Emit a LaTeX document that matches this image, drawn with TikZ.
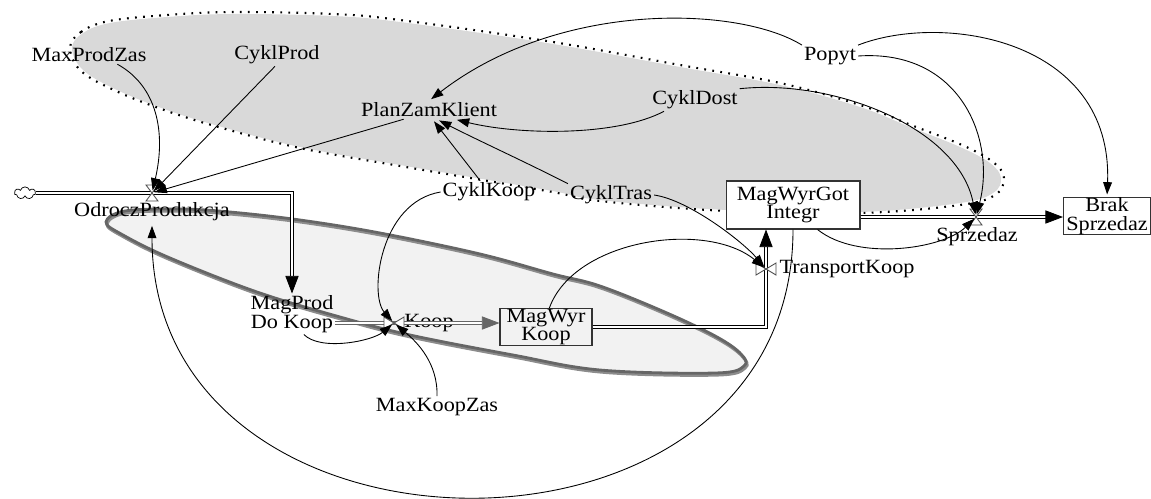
\documentclass[tikz,border=0pt]{standalone}
\usepackage{fontspec}
\setmainfont{Liberation Serif}[FakeStretch=1.1]
\usetikzlibrary{arrows.meta,shapes.symbols}

\begin{document}
\begin{tikzpicture}[x=0.02cm, y=-0.02cm,
  every node/.style={font=\fontsize{11.5}{10.5}\selectfont, inner sep=1pt, align=center},
  stock/.style={draw=black!80, line width=0.6pt, inner sep=0pt},
  flowpipe/.style={draw=black, line width=0.45pt, double=white, double distance=1.3pt,
    -{Triangle[length=10pt,width=7.5pt]}},
  link/.style={line width=0.5pt, shorten >=1.5pt, -{Triangle[length=7pt,width=5pt]}},
  hglass/.pic={\draw[black!70, line width=0.5pt, fill=white] (-6,-8) -- (6,-8) -- (-6,8) -- (6,8) -- cycle;},
  btie/.pic={\draw[black!70, line width=0.5pt, fill=white] (-10,-6) -- (-10,6) -- (10,-6) -- (10,6) -- cycle;}]
  \useasboundingbox (0,0) rectangle (1151,498);

  % shaded loops
  \fill[black!15] plot[smooth cycle, tension=0.6] coordinates {(72,48) (83,33) (110,23) (167,17)
    (233,14) (333,16) (400,22) (547,43) (680,67) (780,85) (860,107) (910,127) (960,147) (990,163)
    (1001,178) (993,193) (960,203) (860,212) (727,210) (600,200) (547,190) (400,165) (300,147)
    (222,127) (167,110) (117,90) (83,70)};
  \draw[line width=1.2pt, dash pattern=on 1pt off 3.6pt] plot[smooth cycle, tension=0.6] coordinates {(70,48) (81,32) (109,21) (167,15)
    (233,12) (333,14) (400,20) (547,41) (680,65) (780,83) (860,105) (911,125) (962,145) (993,162)
    (1004,178) (995,195) (960,205) (860,213) (727,211) (600,201) (547,191) (400,166) (300,148)
    (222,128) (167,111) (116,91) (81,71)};
  \draw[black!45, line width=1.8pt, fill=black!5, shift={(1,2)}] plot[smooth cycle, tension=0.6] coordinates {(106,222) (125,211)
    (180,209) (230,212) (300,220) (380,233) (480,254) (553,274) (600,286) (667,313) (717,337)
    (741,354) (744,366) (715,373) (600,370) (513,355) (410,335) (340,317) (257,292) (170,258) (123,235)};
  \draw[black!60, line width=1.6pt] plot[smooth cycle, tension=0.6] coordinates {(106,222) (125,211)
    (180,209) (230,212) (300,220) (380,233) (480,254) (553,274) (600,286) (667,313) (717,337)
    (741,354) (744,366) (715,373) (600,370) (513,355) (410,335) (340,317) (257,292) (170,258) (123,235)};

  % stocks and variables
  \node[cloud, draw, cloud puffs=7, aspect=2, minimum width=12pt, minimum height=7pt, inner sep=0pt] (src) at (25,193) {};
  \node (magprod) at (292,314) {MagProd\\Do Koop};
  \node[stock, minimum width=1.84cm, minimum height=0.74cm] (mwk) at (546,327) {MagWyr\\Koop};
  \node[stock, fill=white, minimum width=2.68cm, minimum height=0.96cm] (mwg) at (793,205) {MagWyrGot\\Integr};
  \node[stock, fill=white, minimum width=1.74cm, minimum height=0.7cm] (brak) at (1107,216) {Brak\\Sprzedaz};
  \coordinate (vodp) at (152,193);
  \coordinate (vkoop) at (394,323);
  \coordinate (vtr) at (766,269);
  \coordinate (vsp) at (976,217);
  \node (odp) at (152,212) {OdroczProdukcja};
  \node (koop) at (429,323) {Koop};
  \node (transport) at (847,269) {TransportKoop};
  \node (sprzedaz) at (977,237) {Sprzedaz};
  \node (maxprodzas) at (89,55) {MaxProdZas};
  \node (cyklprod) at (277,55) {CyklProd};
  \node (planzam) at (429,110) {PlanZamKlient};
  \node (cykldost) at (695,100) {CyklDost};
  \node (cyklkoop) at (489,192) {CyklKoop};
  \node (cykltras) at (611,195) {CyklTras};
  \node (popyt) at (830,56) {Popyt};
  \node (maxkoopzas) at (437,407) {MaxKoopZas};

  % flows
  \draw[flowpipe] (src.east) -| (magprod.north);
  \draw[flowpipe, draw=black!60] (magprod.east |- vkoop) -- (vkoop -| mwk.west);
  \draw[flowpipe] (mwk.east) -| (vtr |- mwg.south);
  \draw[flowpipe] (vsp -| mwg.east) -- (vsp -| brak.west);
  \pic at (vodp) {hglass};
  \pic at (vsp) {hglass};
  \pic at (vkoop) {btie};
  \pic at (vtr) {btie};

  % links
  \draw[link] (maxprodzas.-18) .. controls +(40,22) and +(14,-60) .. (vodp);
  \draw[link] (cyklprod.-100) -- (vodp);
  \draw[link] (planzam.200) -- (vodp);
  \draw[link] (popyt.north west) .. controls +(-63,-39) and +(131,-101) .. (planzam.north);
  \draw[link] (cykldost.-160) .. controls +(-47,25) and +(66,16) .. (planzam.-20);
  \draw[link] (cyklkoop) -- (planzam.-70);
  \draw[link] (cykltras.north west) .. controls +(-43,-22) and +(43,22) .. (planzam.-50);
  \draw[link] (cykldost.north east) .. controls +(93,-10) and +(-18,-90) .. (vsp);
  \draw[link] (popyt.east) .. controls +(102,-7) and +(20,-78) .. (vsp);
  \draw[link] (popyt.north east) .. controls +(85,-33) and +(6,-158) .. (brak.north);
  \draw[link] (mwg.-45) .. controls +(40,32) and +(-33,32) .. (vsp);
  \draw[link] (mwg.south) .. controls +(0,360) and +(0,360) .. (odp.south);
  \draw[link] (mwk.80) .. controls +(25,-69) and +(-60,-49) .. (vtr);
  \draw[link] (cyklkoop.west) .. controls +(-61,10) and +(-25,-28) .. (vkoop);
  \draw[link] (magprod.-60) .. controls +(17,17) and +(-22,18) .. (vkoop);
  \draw[link] (maxkoopzas.north) .. controls +(1,-33) and +(23,19) .. (vkoop);
  \draw[link] (cykltras.east) .. controls +(35,5) and +(-23,-27) .. (vtr);
\end{tikzpicture}
\end{document}
